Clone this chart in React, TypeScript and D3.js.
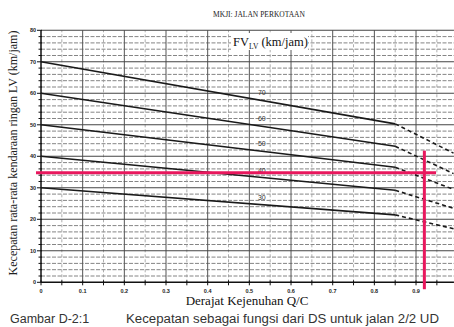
import React from "react";
import * as d3 from "d3";

// ---- data ----
const fvLevels = [70, 60, 50, 40, 30];
const dsSolid = [0, 0.85];
const dsDashed = [0.85, 0.99];
const speedAt085 = [50.3, 43.2, 36.5, 29.2, 21.4];
const speedAt099 = [41, 34.5, 29.5, 23.5, 17];
const xTicks = [0, 0.1, 0.2, 0.3, 0.4, 0.5, 0.6, 0.7, 0.8, 0.9];
const yTicks = [0, 10, 20, 30, 40, 50, 60, 70, 80];
const pinkSpeed = 34.8;
const pinkDS = 0.92;
const pinkHRange = [-0.012, 0.948];
const pinkVRange = [41.8, -2.2];

const W = 454;
const H = 327;

export default function App() {
  const x = d3.scaleLinear().domain([0, 1]).range([41, 457.7]);
  const y = d3.scaleLinear().domain([0, 80]).range([282.3, 30.3]);
  const xMax = 0.991;

  const line = d3
    .line<[number, number]>()
    .x((d) => x(d[0]))
    .y((d) => y(d[1]));

  const minorX = d3.range(0.05, 0.96, 0.1);
  const majorX = d3.range(0.1, 0.95, 0.1);
  const minorY = d3.range(0, 81, 2).filter((v) => v % 10 !== 0);
  const majorY = d3.range(10, 81, 10);

  const serif = "'Liberation Serif', 'DejaVu Serif', serif";
  const sans = "'Liberation Sans', Arial, sans-serif";

  const labelDS = 0.53;

  return (
    <svg
      width={W}
      height={H}
      viewBox={`0 0 ${W} ${H}`}
      style={{ position: "absolute", left: 0, top: 0, background: "#fff" }}
    >
      <rect x={0} y={0} width={W} height={H} fill="#fff" />
      {/* header */}
      <text
        x={259}
        y={17}
        textAnchor="middle"
        fontFamily={serif}
        fontSize={7.5}
        fill="#222"
      >
        MKJI: JALAN PERKOTAAN
      </text>

      {/* grid */}
      <g>
        {minorY.map((v) => (
          <line
            key={"my" + v}
            x1={x(0)}
            x2={x(xMax)}
            y1={y(v)}
            y2={y(v)}
            stroke="#666"
            strokeWidth={0.8}
            strokeDasharray="4,1.5"
          />
        ))}
        {minorX.map((v) => (
          <line
            key={"mx" + v}
            x1={x(v)}
            x2={x(v)}
            y1={y(0)}
            y2={y(80)}
            stroke="#999"
            strokeWidth={0.8}
            strokeDasharray="3,2"
          />
        ))}
        {majorX.map((v) => (
          <line
            key={"Mx" + v}
            x1={x(v)}
            x2={x(v)}
            y1={y(0)}
            y2={y(80)}
            stroke="#555"
            strokeWidth={1}
          />
        ))}
        {majorY.map((v) => (
          <line
            key={"My" + v}
            x1={x(0)}
            x2={x(xMax)}
            y1={y(v)}
            y2={y(v)}
            stroke="#444"
            strokeWidth={1.1}
          />
        ))}
      </g>

      {/* axes */}
      <line x1={x(0)} x2={x(0)} y1={y(0)} y2={y(80)} stroke="#111" strokeWidth={1.5} />
      <line x1={x(0)} x2={x(xMax)} y1={y(0)} y2={y(0)} stroke="#111" strokeWidth={1.6} />
      {d3.range(0, 81, 2).map((v) => (
        <line
          key={"yt" + v}
          x1={x(0) - (v % 10 === 0 ? 4 : 2.5)}
          x2={x(0) + 1}
          y1={y(v)}
          y2={y(v)}
          stroke="#111"
          strokeWidth={1}
        />
      ))}
      {d3.range(0, 0.96, 0.05).map((v) => (
        <line
          key={"xt" + v}
          x1={x(v)}
          x2={x(v)}
          y1={y(0) - 2}
          y2={y(0) + 3}
          stroke="#111"
          strokeWidth={1}
        />
      ))}
      {yTicks.map((v) => (
        <text
          key={"yl" + v}
          x={x(0) - 5}
          y={y(v) + 2}
          textAnchor="end"
          fontFamily={sans}
          fontSize={5.5}
          fontWeight="bold"
          fill="#222"
        >
          {v}
        </text>
      ))}
      {xTicks.map((v) => (
        <text
          key={"xl" + v}
          x={x(v)}
          y={y(0) + 11}
          textAnchor="middle"
          fontFamily={sans}
          fontSize={5.5}
          fontWeight="bold"
          fill="#222"
        >
          {v === 0 ? "0" : v.toFixed(1)}
        </text>
      ))}

      {/* FV lines */}
      {fvLevels.map((fv, i) => (
        <g key={"fv" + fv}>
          <path
            d={line([
              [dsSolid[0], fv],
              [dsSolid[1], speedAt085[i]],
            ]) || ""}
            fill="none"
            stroke="#1a1a1a"
            strokeWidth={1.6}
          />
          <path
            d={line([
              [dsDashed[0], speedAt085[i]],
              [dsDashed[1], speedAt099[i]],
            ]) || ""}
            fill="none"
            stroke="#1a1a1a"
            strokeWidth={1.6}
            strokeDasharray="4,3"
          />
          <text
            x={x(labelDS)}
            y={y(fv + (speedAt085[i] - fv) * (labelDS / 0.85)) - 5}
            textAnchor="middle"
            fontFamily={sans}
            fontSize={7}
            fill="#333"
          >
            {fv}
          </text>
        </g>
      ))}

      {/* legend title */}
      <rect x={231} y={33} width={77} height={17} fill="#fff" />
      <text x={233} y={46} fontFamily={serif} fontSize={12.5} fill="#111">
        FV
        <tspan fontSize={7.5} dy={3}>
          LV
        </tspan>
        <tspan dy={-3}> (km/jam)</tspan>
      </text>

      {/* pink reading lines */}
      <line
        x1={x(pinkHRange[0])}
        x2={x(pinkHRange[1])}
        y1={y(pinkSpeed)}
        y2={y(pinkSpeed)}
        stroke="#e8175d"
        strokeWidth={3}
      />
      <line
        x1={x(pinkDS)}
        x2={x(pinkDS)}
        y1={y(pinkVRange[0])}
        y2={y(pinkVRange[1])}
        stroke="#e8175d"
        strokeWidth={3}
      />

      {/* axis titles */}
      <text
        transform={`translate(17, 153) rotate(-90)`}
        textAnchor="middle"
        fontFamily={serif}
        fontSize={12}
        fill="#222"
      >
        Kecepatan rata-rata kendaraan ringan LV (km/jam)
      </text>
      <text
        x={247}
        y={305}
        textAnchor="middle"
        fontFamily={serif}
        fontSize={13}
        fill="#111"
      >
        Derajat Kejenuhan Q/C
      </text>

      {/* caption */}
      <text x={10} y={323} fontFamily={sans} fontSize={12.5} fill="#333">
        Gambar D-2:1
      </text>
      <text
        x={126}
        y={323}
        fontFamily={sans}
        fontSize={12.5}
        fill="#333"
        textLength={313}
        lengthAdjust="spacingAndGlyphs"
      >
        Kecepatan sebagai fungsi dari DS untuk jalan 2/2 UD
      </text>
    </svg>
  );
}
